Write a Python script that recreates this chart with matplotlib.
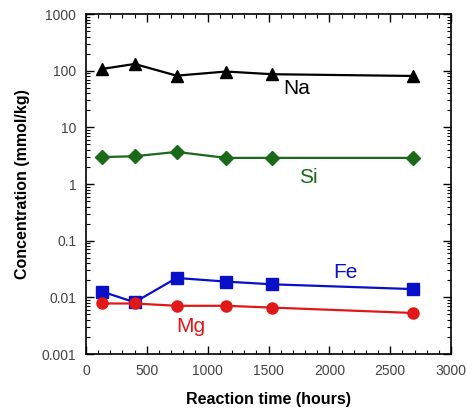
import numpy as np
import matplotlib.pyplot as plt
from matplotlib.ticker import MultipleLocator, LogLocator, FixedFormatter, FixedLocator

plt.rcParams['font.family'] = ['Liberation Sans', 'DejaVu Sans']

# reaction time (hours)
hours = [135, 400, 745, 1150, 1530, 2690]

# concentrations (mmol/kg)
na = [108, 132, 82, 97, 87, 81]
si = [3.0, 3.1, 3.7, 2.9, 2.9, 2.9]
fe = [0.0126, 0.0082, 0.022, 0.019, 0.017, 0.014]
mg = [0.0078, 0.0078, 0.0071, 0.0071, 0.0066, 0.0053]

fig = plt.figure(figsize=(4.67, 4.16), dpi=100)
ax = fig.add_axes([0.184, 0.149, 0.782, 0.817])

ax.plot(hours, na, color='black', marker='^', markersize=9, lw=1.6)
ax.plot(hours, si, color='#1a6a1a', marker='D', markersize=7, lw=1.6)
ax.plot(hours, fe, color='#0a10c8', marker='s', markersize=8, lw=1.6)
ax.plot(hours, mg, color='#e01818', marker='o', markersize=8, lw=1.6)

ax.text(1730, 49, 'Na', color='black', fontsize=15, ha='center', va='center')
ax.text(1830, 1.3, 'Si', color='#1a6a1a', fontsize=15, ha='center', va='center')
ax.text(2130, 0.027, 'Fe', color='#0a10c8', fontsize=15, ha='center', va='center')
ax.text(860, 0.0031, 'Mg', color='#e01818', fontsize=15, ha='center', va='center')

ax.set_yscale('log')
ax.set_xlim(0, 3000)
ax.set_ylim(0.001, 1000)
ax.xaxis.set_major_locator(MultipleLocator(500))
ax.xaxis.set_minor_locator(MultipleLocator(100))
ax.yaxis.set_major_locator(FixedLocator([0.001, 0.01, 0.1, 1, 10, 100, 1000]))
ax.yaxis.set_major_formatter(FixedFormatter(['0.001', '0.01', '0.1', '1', '10', '100', '1000']))
ax.yaxis.set_minor_locator(LogLocator(base=10, subs=np.arange(2, 10)))

ax.tick_params(which='both', direction='in', top=True, right=True,
               labelsize=10, labelcolor='#444444', pad=7)
ax.tick_params(which='major', length=6, width=1)
ax.tick_params(which='minor', length=3, width=0.8)
for s in ax.spines.values():
    s.set_linewidth(1.2)

ax.set_xlabel('Reaction time (hours)', fontsize=11.5, fontweight='bold', labelpad=10)
ax.set_ylabel('Concentration (mmol/kg)', fontsize=11.5, fontweight='bold', labelpad=8)

fig.savefig('out.png', dpi=100)
